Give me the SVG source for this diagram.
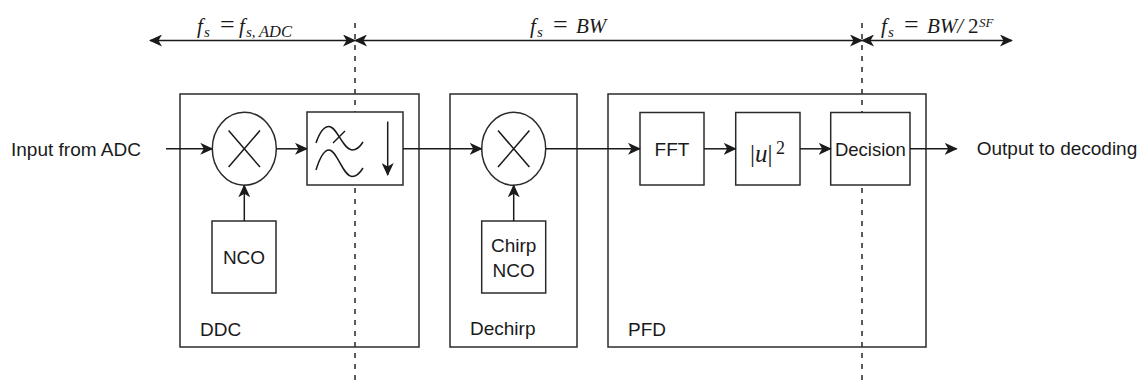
<svg xmlns="http://www.w3.org/2000/svg" width="1143" height="384" viewBox="0 0 1143 384">
<style>
.box{fill:none;stroke:#2b2b2b;stroke-width:1.5}
.blk{fill:#fff;stroke:#2b2b2b;stroke-width:1.5}
.ln{fill:none;stroke:#1a1a1a;stroke-width:1.5}
.arr{marker-end:url(#ah)}
.dbl{marker-start:url(#ah);marker-end:url(#ah)}
.dash{stroke:#333;stroke-width:1.6;stroke-dasharray:5 6;fill:none}
.t{font-family:"Liberation Sans",Arial,sans-serif;font-size:19px;fill:#1a1a1a}
.m{font-family:"Liberation Serif","Times New Roman",serif;font-size:21px;fill:#1a1a1a}
.i{font-style:italic}
</style>
<defs>
<marker id="ah" viewBox="0 0 13 12" markerWidth="13" markerHeight="12" refX="12" refY="6" orient="auto-start-reverse" markerUnits="userSpaceOnUse">
<path d="M0,0 L13,6 L0,12 L3.5,6 Z" fill="#1a1a1a"/>
</marker>
</defs>
<rect width="1143" height="384" fill="#fff"/>

<g id="containers">
<g id="ddc"><rect class="box" x="180" y="94" width="239" height="253"/><text class="t" x="200" y="336">DDC</text></g>
<g id="dechirp"><rect class="box" x="450" y="94" width="127" height="253"/><text class="t" x="470" y="335">Dechirp</text></g>
<g id="pfd"><rect class="box" x="608" y="94" width="318" height="253"/><text class="t" x="628" y="336">PFD</text></g>
</g>

<g id="rate-boundaries">
<line class="dash" x1="355" y1="23" x2="355" y2="384"/>
<line class="dash" x1="862" y1="23" x2="862" y2="384"/>
</g>

<g id="rate-labels">
<line class="ln dbl" x1="150" y1="40.5" x2="355" y2="40.5"/>
<line class="ln dbl" x1="355" y1="40.5" x2="862" y2="40.5"/>
<line class="ln dbl" x1="862" y1="40.5" x2="1012" y2="40.5"/>
<text class="m" y="33"><tspan class="i" x="197">f</tspan><tspan class="i" x="204" y="37" style="font-size:15px">s</tspan><tspan x="220" y="33" style="font-size:26px">=</tspan><tspan class="i" x="239" y="33">f</tspan><tspan class="i" x="246" y="37" style="font-size:15px">s,</tspan><tspan class="i" x="259" y="37" style="font-size:16.5px">ADC</tspan></text>
<text class="m" y="33"><tspan class="i" x="530">f</tspan><tspan class="i" x="537" y="37" style="font-size:15px">s</tspan><tspan x="553" y="33" style="font-size:26px">=</tspan><tspan class="i" x="576" y="33">BW</tspan></text>
<text class="m" y="33"><tspan class="i" x="881">f</tspan><tspan class="i" x="888" y="37" style="font-size:15px">s</tspan><tspan x="904" y="33" style="font-size:26px">=</tspan><tspan class="i" x="927" y="33">BW/</tspan><tspan x="968" y="33">2</tspan><tspan class="i" x="979" y="27" style="font-size:13px">SF</tspan></text>
</g>

<g id="mixer1"><ellipse class="blk" cx="244.3" cy="148.8" rx="32" ry="36.5"/><path class="ln" d="M228.6,130.5 L260,167.1 M260,130.5 L228.6,167.1"/></g>
<g id="nco"><rect class="blk" x="212" y="221" width="64" height="72"/><text class="t" x="244" y="264" text-anchor="middle">NCO</text></g>
<g id="lpf-decim">
<rect class="blk" x="307" y="112" width="96" height="73"/>
<path class="ln" d="M316,143 C320,131 324,126.5 329,126.5 C337,126.5 343,150 352,150 C357,150 360,147 363,142"/>
<path class="ln" d="M316,170 C320,157 324,150 329,150 C337,150 343,176.5 352,176.5 C357,176.5 360,173 363,168"/>
<line class="ln" x1="333" y1="143" x2="345" y2="131"/>
<line class="ln arr" x1="387.7" y1="121.5" x2="387.7" y2="175"/>
</g>
<g id="mixer2"><ellipse class="blk" cx="513.7" cy="148.8" rx="32" ry="36.5"/><path class="ln" d="M498,130.5 L529.4,167.1 M529.4,130.5 L498,167.1"/></g>
<g id="chirp-nco"><rect class="blk" x="481.7" y="221" width="64" height="72"/><text class="t" x="513.7" y="251.5" text-anchor="middle">Chirp</text><text class="t" x="513.7" y="276.5" text-anchor="middle">NCO</text></g>
<g id="fft"><rect class="blk" x="640" y="112.5" width="64" height="72.5"/><text class="t" x="672" y="156" text-anchor="middle">FFT</text></g>
<g id="mag2"><rect class="blk" x="735.7" y="112.5" width="64.3" height="72.5"/><text class="m" y="161.5" style="font-size:25px"><tspan x="750">|</tspan><tspan class="i">u</tspan><tspan>|</tspan><tspan x="776" y="154" style="font-size:18px">2</tspan></text></g>
<g id="decision"><rect class="blk" x="830.7" y="112.5" width="79.3" height="72.5"/><text class="t" x="870.4" y="156" text-anchor="middle" style="font-size:18.5px">Decision</text></g>

<g id="io-labels">
<text class="t" x="11" y="156">Input from ADC</text>
<text class="t" x="976.7" y="155">Output to decoding</text>
</g>

<g id="connectors">
<line class="ln arr" x1="166" y1="148.8" x2="212.3" y2="148.8"/>
<line class="ln arr" x1="276.3" y1="148.8" x2="307" y2="148.8"/>
<line class="ln arr" x1="244.3" y1="221" x2="244.3" y2="185.3"/>
<line class="ln arr" x1="403" y1="148.8" x2="481.7" y2="148.8"/>
<line class="ln arr" x1="513.7" y1="221" x2="513.7" y2="185.3"/>
<line class="ln arr" x1="545.7" y1="148.8" x2="640" y2="148.8"/>
<line class="ln arr" x1="704" y1="148.8" x2="735.7" y2="148.8"/>
<line class="ln arr" x1="800" y1="148.8" x2="830.7" y2="148.8"/>
<line class="ln arr" x1="910" y1="148.8" x2="956.7" y2="148.8"/>
</g>
</svg>
